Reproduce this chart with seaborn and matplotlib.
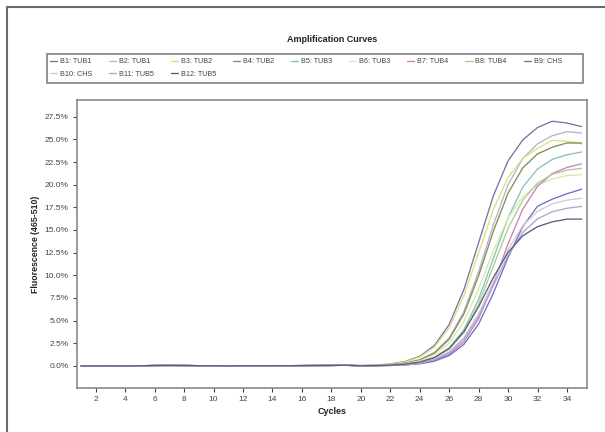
import numpy as np
import pandas as pd
import matplotlib
matplotlib.use("Agg")
import matplotlib.pyplot as plt
from matplotlib.lines import Line2D
from matplotlib.patches import Rectangle
import seaborn as sns

cycles = list(range(1, 36))
baseline = [0.0, 0.0, 0.01, 0.0, 0.02, 0.05, 0.06, 0.05, 0.03, 0.02,
            0.01, 0.02, 0.02, 0.03, 0.03, 0.04, 0.05, 0.06, 0.08]

labels = ["B1: TUB1", "B2: TUB1", "B3: TUB2", "B4: TUB2", "B5: TUB3", "B6: TUB3",
          "B7: TUB4", "B8: TUB4", "B9: CHS", "B10: CHS", "B11: TUB5", "B12: TUB5"]
colors = ["#7474a8", "#b8b2c8", "#e4dc7a", "#808e58", "#84c4b6", "#dce8aa",
          "#c882b8", "#afcb94", "#7070c0", "#dcc6d4", "#a8a8d8", "#5e5e7c"]

# fluorescence (%) for cycles 20..35
b1 = [0.05, 0.10, 0.22, 0.49, 1.06, 2.26, 4.57, 8.43, 13.6, 18.77, 22.63, 24.94, 26.3, 27.0, 26.8, 26.4]
b2 = [0.03, 0.07, 0.14, 0.31, 0.69, 1.49, 3.09, 6.0, 10.43, 15.57, 20.0, 22.9, 24.5, 25.4, 25.85, 25.7]
b3 = [0.04, 0.09, 0.2, 0.45, 0.98, 2.08, 4.2, 7.75, 12.5, 17.25, 20.8, 22.9, 24.0, 24.9, 24.8, 24.5]
b4 = [0.03, 0.06, 0.14, 0.30, 0.66, 1.42, 2.95, 5.73, 9.94, 14.86, 19.07, 21.85, 23.39, 24.13, 24.6, 24.6]
b5 = [0.02, 0.04, 0.09, 0.19, 0.43, 0.92, 1.97, 3.98, 7.35, 11.85, 16.35, 19.72, 21.73, 22.78, 23.3, 23.6]
b6 = [0.02, 0.05, 0.12, 0.25, 0.56, 1.21, 2.52, 4.9, 8.5, 12.7, 16.3, 18.68, 19.99, 20.63, 21.0, 21.1]
b7 = [0.01, 0.03, 0.06, 0.12, 0.27, 0.6, 1.29, 2.68, 5.2, 9.02, 13.48, 17.3, 19.82, 21.22, 21.9, 22.3]
b8 = [0.02, 0.04, 0.08, 0.18, 0.40, 0.86, 1.83, 3.7, 6.82, 11.0, 15.18, 18.3, 20.17, 21.14, 21.6, 21.8]
b9 = [0.01, 0.02, 0.05, 0.11, 0.24, 0.53, 1.15, 2.38, 4.62, 8.02, 11.98, 15.38, 17.62, 18.4, 19.0, 19.5]
b10 = [0.01, 0.03, 0.07, 0.15, 0.33, 0.73, 1.54, 3.12, 5.77, 9.3, 12.83, 15.48, 17.06, 17.88, 18.3, 18.5]
b11 = [0.01, 0.03, 0.07, 0.15, 0.32, 0.69, 1.47, 2.97, 5.49, 8.85, 12.21, 14.73, 16.23, 17.01, 17.4, 17.6]
b12 = [0.02, 0.04, 0.09, 0.2, 0.43, 0.93, 1.94, 3.77, 6.54, 9.76, 12.54, 14.36, 15.37, 15.9, 16.2, 16.2]
series = [b1, b2, b3, b4, b5, b6, b7, b8, b9, b10, b11, b12]

xticks = list(range(2, 36, 2))
yticks = [0.0, 2.5, 5.0, 7.5, 10.0, 12.5, 15.0, 17.5, 20.0, 22.5, 25.0, 27.5]

rows = []
for lab, s in zip(labels, series):
    vals = baseline + s
    for c, v in zip(cycles, vals):
        rows.append({"Sample": lab, "Cycle": c, "Fluorescence": v})
df = pd.DataFrame(rows)

sns.set_theme(style="white")
plt.rcParams["font.family"] = ["Liberation Sans", "DejaVu Sans"]

fig = plt.figure(figsize=(6.05, 4.32), dpi=100)
fig.patch.set_facecolor("white")
ax = fig.add_axes([77 / 605, 1 - 388 / 432, (587 - 77) / 605, (388 - 100) / 432])

sns.lineplot(data=df, x="Cycle", y="Fluorescence", hue="Sample",
             hue_order=labels, palette=dict(zip(labels, colors)),
             errorbar=None, linewidth=0.95, ax=ax, legend=True)

handles, labs = ax.get_legend_handles_labels()
ax.get_legend().remove()
hmap = dict(zip(labs, handles))
# order so that rows read B1..B9 then B10..B12 (legend fills column-wise)
order = ["B1: TUB1", "B10: CHS", "B2: TUB1", "B11: TUB5", "B3: TUB2", "B12: TUB5",
         "B4: TUB2", "B5: TUB3", "B6: TUB3", "B7: TUB4", "B8: TUB4", "B9: CHS"]

ax.set_xlim(0.73, 35.36)
ax.set_ylim(-2.43, 29.34)
ax.set_xticks(xticks)
ax.set_xticklabels([str(t) for t in xticks])
ax.set_yticks(yticks)
ax.set_yticklabels([f"{t:.1f}%" for t in yticks])
ax.tick_params(axis="both", labelsize=6, colors="#444444", length=3, width=0.8,
               direction="out", bottom=True, left=True, pad=3)
for sp in ax.spines.values():
    sp.set_color("#8a8a8a")
    sp.set_linewidth(1.2)
ax.set_xlabel("Cycles", fontsize=6.5, fontweight="bold", color="#222222", labelpad=3)
ax.set_ylabel("Fluorescence (465-510)", fontsize=6.3, fontweight="bold", color="#222222", labelpad=3)

fig.text((77 + 587) / 2 / 605, 1 - 40 / 432, "Amplification Curves",
         ha="center", va="center", fontsize=6.5, fontweight="bold", color="#222222")

# legend box
fig.add_artist(Rectangle((47 / 605, 1 - 83 / 432), (583 - 47) / 605, 29 / 432,
                         transform=fig.transFigure, fill=False,
                         edgecolor="#808080", linewidth=1.2))
leg = fig.legend([hmap[o] for o in order], order, loc="upper left",
                 bbox_to_anchor=(50 / 605, 1 - 58 / 432, (562 - 50) / 605, 0.0),
                 mode="expand", ncol=9, fontsize=5.2, frameon=False,
                 handlelength=1.0, handletextpad=0.4, columnspacing=0.6,
                 borderpad=0.0, labelspacing=0.75, borderaxespad=0)
for t in leg.get_texts():
    t.set_color("#444444")

# outer frame (left and top edges)
fig.add_artist(Line2D([7 / 605, 7 / 605], [0, 1 - 7 / 432], transform=fig.transFigure,
                      color="#6a6a6a", linewidth=1.5))
fig.add_artist(Line2D([7 / 605, 1], [1 - 7 / 432, 1 - 7 / 432], transform=fig.transFigure,
                      color="#6a6a6a", linewidth=1.5))

fig.savefig("out.png", dpi=100, facecolor="white")
